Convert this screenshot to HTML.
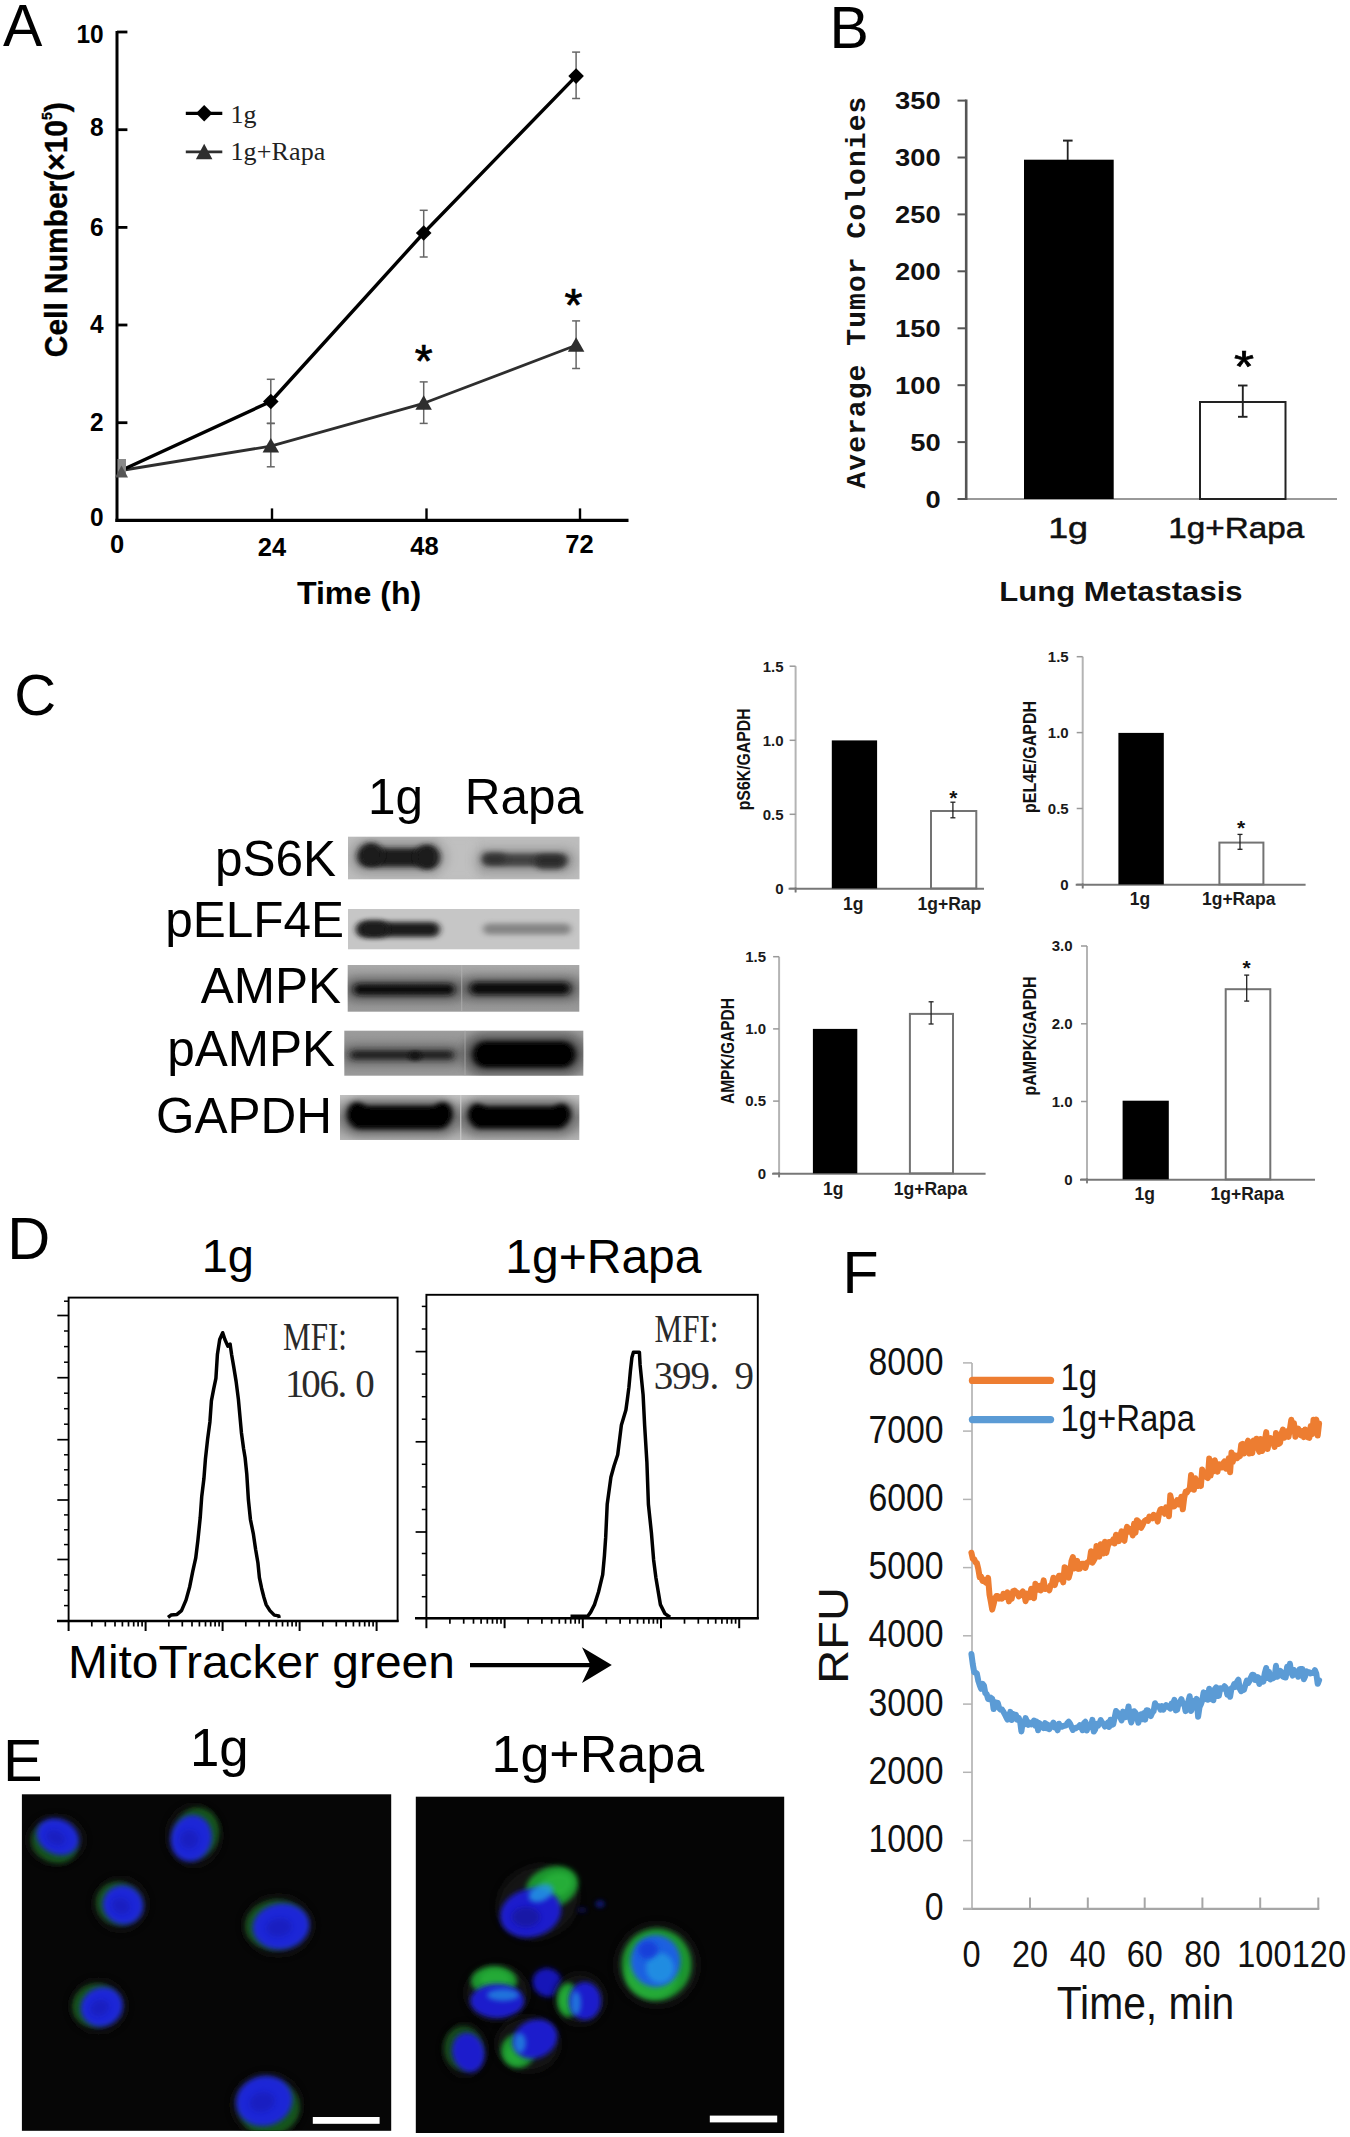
<!DOCTYPE html>
<html lang="en"><head><meta charset="utf-8"><title>Figure</title>
<style>
html,body{margin:0;padding:0;background:#fff;}
body{width:1350px;height:2137px;overflow:hidden;font-family:"Liberation Sans",Arial,sans-serif;}
svg{display:block;position:absolute;left:0;top:0;}
text{white-space:pre;}
</style></head><body>
<svg width="1350" height="2137" viewBox="0 0 1350 2137">
<defs>
<filter id="bl3" x="-30%" y="-60%" width="160%" height="220%"><feGaussianBlur stdDeviation="3.2 2.4"/></filter>
<filter id="bl2" x="-30%" y="-60%" width="160%" height="220%"><feGaussianBlur stdDeviation="2.4 1.8"/></filter>
<filter id="bl5" x="-30%" y="-80%" width="160%" height="260%"><feGaussianBlur stdDeviation="5 3.5"/></filter>
<filter id="bl1" x="-5%" y="-10%" width="110%" height="120%"><feGaussianBlur stdDeviation="0.7"/></filter>
<linearGradient id="gAMPK" x1="0" y1="0" x2="0" y2="1"><stop offset="0" stop-color="#a9a9a9"/><stop offset="0.5" stop-color="#8c8c8c"/><stop offset="1" stop-color="#9a9a9a"/></linearGradient>
<linearGradient id="gPAMPK" x1="0" y1="0" x2="0" y2="1"><stop offset="0" stop-color="#9c9c9c"/><stop offset="0.5" stop-color="#8a8a8a"/><stop offset="1" stop-color="#9a9a9a"/></linearGradient>
<linearGradient id="gGAPDH" x1="0" y1="0" x2="0" y2="1"><stop offset="0" stop-color="#c2c2c2"/><stop offset="0.5" stop-color="#8e8e8e"/><stop offset="1" stop-color="#b4b4b4"/></linearGradient>

<filter id="ef4" x="-40%" y="-40%" width="180%" height="180%"><feGaussianBlur stdDeviation="2.8"/></filter>
<filter id="ef6" x="-50%" y="-50%" width="200%" height="200%"><feGaussianBlur stdDeviation="3.5"/></filter>
<filter id="ef2" x="-40%" y="-40%" width="180%" height="180%"><feGaussianBlur stdDeviation="2"/></filter>
</defs>
<rect x="0" y="0" width="1350" height="2137" fill="#fff"/>
<g>
<text x="3.1" y="45.8" font-family='"Liberation Sans", Arial, Helvetica, sans-serif' font-size="59" font-weight="normal" text-anchor="start" fill="#000" >A</text>
<line x1="117" y1="31" x2="117" y2="522" stroke="#000" stroke-width="3.0" />
<line x1="115.4" y1="520.4" x2="628.5" y2="520.4" stroke="#000" stroke-width="3.2" />
<line x1="117" y1="422.7" x2="127.4" y2="422.7" stroke="#000" stroke-width="2.8" />
<line x1="117" y1="325" x2="127.4" y2="325" stroke="#000" stroke-width="2.8" />
<line x1="117" y1="227.4" x2="127.4" y2="227.4" stroke="#000" stroke-width="2.8" />
<line x1="117" y1="129.7" x2="127.4" y2="129.7" stroke="#000" stroke-width="2.8" />
<line x1="117" y1="32" x2="127.4" y2="32" stroke="#000" stroke-width="2.8" />
<text x="103.6" y="526.3" font-family='"Liberation Sans", Arial, Helvetica, sans-serif' font-size="26.5" font-weight="bold" text-anchor="end" fill="#000" textLength="13.6" lengthAdjust="spacingAndGlyphs">0</text>
<text x="103.6" y="430.8" font-family='"Liberation Sans", Arial, Helvetica, sans-serif' font-size="26.5" font-weight="bold" text-anchor="end" fill="#000" textLength="13.6" lengthAdjust="spacingAndGlyphs">2</text>
<text x="103.6" y="333.1" font-family='"Liberation Sans", Arial, Helvetica, sans-serif' font-size="26.5" font-weight="bold" text-anchor="end" fill="#000" textLength="13.6" lengthAdjust="spacingAndGlyphs">4</text>
<text x="103.6" y="235.5" font-family='"Liberation Sans", Arial, Helvetica, sans-serif' font-size="26.5" font-weight="bold" text-anchor="end" fill="#000" textLength="13.6" lengthAdjust="spacingAndGlyphs">6</text>
<text x="103.6" y="136.3" font-family='"Liberation Sans", Arial, Helvetica, sans-serif' font-size="26.5" font-weight="bold" text-anchor="end" fill="#000" textLength="13.6" lengthAdjust="spacingAndGlyphs">8</text>
<text x="103.6" y="43.2" font-family='"Liberation Sans", Arial, Helvetica, sans-serif' font-size="26.5" font-weight="bold" text-anchor="end" fill="#000" textLength="27.2" lengthAdjust="spacingAndGlyphs">10</text>
<line x1="272" y1="520.4" x2="272" y2="508.4" stroke="#000" stroke-width="2.4" />
<line x1="426.5" y1="520.4" x2="426.5" y2="508.4" stroke="#000" stroke-width="2.4" />
<line x1="580" y1="520.4" x2="580" y2="508.4" stroke="#000" stroke-width="2.4" />
<text x="117" y="553" font-family='"Liberation Sans", Arial, Helvetica, sans-serif' font-size="25.5" font-weight="bold" text-anchor="middle" fill="#000" >0</text>
<text x="272" y="556" font-family='"Liberation Sans", Arial, Helvetica, sans-serif' font-size="25.5" font-weight="bold" text-anchor="middle" fill="#000" >24</text>
<text x="424.5" y="554.5" font-family='"Liberation Sans", Arial, Helvetica, sans-serif' font-size="25.5" font-weight="bold" text-anchor="middle" fill="#000" >48</text>
<text x="579.5" y="553" font-family='"Liberation Sans", Arial, Helvetica, sans-serif' font-size="25.5" font-weight="bold" text-anchor="middle" fill="#000" >72</text>
<text x="359.1" y="603.8" font-family='"Liberation Sans", Arial, Helvetica, sans-serif' font-size="30.6" font-weight="bold" text-anchor="middle" fill="#000" textLength="124.4" lengthAdjust="spacingAndGlyphs">Time (h)</text>
<text x="67.3" y="229.7" font-family='"Liberation Sans", Arial, Helvetica, sans-serif' font-size="32" font-weight="bold" text-anchor="middle" fill="#000" transform="rotate(-90 67.3 229.7)" textLength="255" lengthAdjust="spacingAndGlyphs" stroke="#000" stroke-width="0.4">Cell Number(×10<tspan font-size="15" dy="-15.5">5</tspan><tspan dy="15.5">)</tspan></text>
<line x1="270.8" y1="379.3" x2="270.8" y2="423.4" stroke="#666" stroke-width="1.5" /><line x1="266.8" y1="379.3" x2="274.8" y2="379.3" stroke="#666" stroke-width="1.5" /><line x1="266.8" y1="423.4" x2="274.8" y2="423.4" stroke="#666" stroke-width="1.5" />
<line x1="270.8" y1="423.4" x2="270.8" y2="466.8" stroke="#666" stroke-width="1.5" /><line x1="266.8" y1="423.4" x2="274.8" y2="423.4" stroke="#666" stroke-width="1.5" /><line x1="266.8" y1="466.8" x2="274.8" y2="466.8" stroke="#666" stroke-width="1.5" />
<line x1="423.7" y1="210.3" x2="423.7" y2="257" stroke="#666" stroke-width="1.5" /><line x1="419.7" y1="210.3" x2="427.7" y2="210.3" stroke="#666" stroke-width="1.5" /><line x1="419.7" y1="257" x2="427.7" y2="257" stroke="#666" stroke-width="1.5" />
<line x1="576.1" y1="52.1" x2="576.1" y2="98.5" stroke="#666" stroke-width="1.5" /><line x1="572.1" y1="52.1" x2="580.1" y2="52.1" stroke="#666" stroke-width="1.5" /><line x1="572.1" y1="98.5" x2="580.1" y2="98.5" stroke="#666" stroke-width="1.5" />
<line x1="423.7" y1="381.9" x2="423.7" y2="423.4" stroke="#666" stroke-width="1.5" /><line x1="419.7" y1="381.9" x2="427.7" y2="381.9" stroke="#666" stroke-width="1.5" /><line x1="419.7" y1="423.4" x2="427.7" y2="423.4" stroke="#666" stroke-width="1.5" />
<line x1="576.1" y1="320.9" x2="576.1" y2="368.5" stroke="#666" stroke-width="1.5" /><line x1="572.1" y1="320.9" x2="580.1" y2="320.9" stroke="#666" stroke-width="1.5" /><line x1="572.1" y1="368.5" x2="580.1" y2="368.5" stroke="#666" stroke-width="1.5" />
<polyline points="121,470.5 270.8,446.1 423.7,403.3 576.1,345.3" fill="none" stroke="#2e2e2e" stroke-width="2.8" stroke-linejoin="round"/>
<polyline points="121,470.5 270.8,401.5 423.7,233 576.1,76.1" fill="none" stroke="#000" stroke-width="3.4" stroke-linejoin="round"/>
<polygon points="263,401.5 270.8,393.7 278.6,401.5 270.8,409.3" fill="#000"/>
<polygon points="415.9,233 423.7,225.2 431.5,233 423.7,240.8" fill="#000"/>
<polygon points="568.3,76.1 576.1,68.3 583.9,76.1 576.1,83.9" fill="#000"/>
<polygon points="262.6,452.6 279.1,452.6 270.8,438.1" fill="#2e2e2e"/>
<polygon points="415.4,409.8 431.9,409.8 423.7,395.3" fill="#2e2e2e"/>
<polygon points="567.9,351.8 584.4,351.8 576.1,337.3" fill="#2e2e2e"/>
<rect x="117.5" y="459" width="8.5" height="17" fill="#8a8a8a" />
<polygon points="115,477.4 128,477.4 121.5,465.4" fill="#555"/>
<line x1="185.8" y1="113.4" x2="222.3" y2="113.4" stroke="#000" stroke-width="3.2" />
<polygon points="196,113.2 204.2,105 212.4,113.2 204.2,121.4" fill="#000"/>
<line x1="185.8" y1="151.9" x2="222.3" y2="151.9" stroke="#2e2e2e" stroke-width="2.8" />
<polygon points="195.9,159.3 212.4,159.3 204.2,143.8" fill="#2e2e2e"/>
<text x="230.4" y="123.3" font-family='"Liberation Serif", "Noto Serif CJK SC", serif' font-size="26" font-weight="normal" text-anchor="start" fill="#222" >1g</text>
<text x="230.4" y="160.3" font-family='"Liberation Serif", "Noto Serif CJK SC", serif' font-size="26" font-weight="normal" text-anchor="start" fill="#222" textLength="95" lengthAdjust="spacing">1g+Rapa</text>
<text x="423.7" y="377" font-family='"Liberation Sans", Arial, Helvetica, sans-serif' font-size="46" font-weight="normal" text-anchor="middle" fill="#000" stroke="#000" stroke-width="0.7">*</text>
<text x="573.5" y="321" font-family='"Liberation Sans", Arial, Helvetica, sans-serif' font-size="46" font-weight="normal" text-anchor="middle" fill="#000" stroke="#000" stroke-width="0.7">*</text>
</g>
<g>
<text x="829.4" y="47.6" font-family='"Liberation Sans", Arial, Helvetica, sans-serif' font-size="59" font-weight="normal" text-anchor="start" fill="#000" >B</text>
<line x1="958" y1="499" x2="1337" y2="499" stroke="#777" stroke-width="1.6" />
<line x1="966.2" y1="99.6" x2="966.2" y2="500" stroke="#555" stroke-width="2.6" />
<line x1="957.5" y1="499" x2="966.2" y2="499" stroke="#555" stroke-width="2" />
<text x="940.6" y="507.7" font-family='"Liberation Sans", Arial, Helvetica, sans-serif' font-size="24.4" font-weight="bold" text-anchor="end" fill="#111" textLength="15.2" lengthAdjust="spacingAndGlyphs">0</text>
<line x1="957.5" y1="442.1" x2="966.2" y2="442.1" stroke="#555" stroke-width="2" />
<text x="940.6" y="450.8" font-family='"Liberation Sans", Arial, Helvetica, sans-serif' font-size="24.4" font-weight="bold" text-anchor="end" fill="#111" textLength="30.4" lengthAdjust="spacingAndGlyphs">50</text>
<line x1="957.5" y1="385.2" x2="966.2" y2="385.2" stroke="#555" stroke-width="2" />
<text x="940.6" y="393.9" font-family='"Liberation Sans", Arial, Helvetica, sans-serif' font-size="24.4" font-weight="bold" text-anchor="end" fill="#111" textLength="45.6" lengthAdjust="spacingAndGlyphs">100</text>
<line x1="957.5" y1="328.3" x2="966.2" y2="328.3" stroke="#555" stroke-width="2" />
<text x="940.6" y="337" font-family='"Liberation Sans", Arial, Helvetica, sans-serif' font-size="24.4" font-weight="bold" text-anchor="end" fill="#111" textLength="45.6" lengthAdjust="spacingAndGlyphs">150</text>
<line x1="957.5" y1="271.3" x2="966.2" y2="271.3" stroke="#555" stroke-width="2" />
<text x="940.6" y="280" font-family='"Liberation Sans", Arial, Helvetica, sans-serif' font-size="24.4" font-weight="bold" text-anchor="end" fill="#111" textLength="45.6" lengthAdjust="spacingAndGlyphs">200</text>
<line x1="957.5" y1="214.4" x2="966.2" y2="214.4" stroke="#555" stroke-width="2" />
<text x="940.6" y="223.1" font-family='"Liberation Sans", Arial, Helvetica, sans-serif' font-size="24.4" font-weight="bold" text-anchor="end" fill="#111" textLength="45.6" lengthAdjust="spacingAndGlyphs">250</text>
<line x1="957.5" y1="157.5" x2="966.2" y2="157.5" stroke="#555" stroke-width="2" />
<text x="940.6" y="166.2" font-family='"Liberation Sans", Arial, Helvetica, sans-serif' font-size="24.4" font-weight="bold" text-anchor="end" fill="#111" textLength="45.6" lengthAdjust="spacingAndGlyphs">300</text>
<line x1="957.5" y1="100.6" x2="966.2" y2="100.6" stroke="#555" stroke-width="2" />
<text x="940.6" y="109.3" font-family='"Liberation Sans", Arial, Helvetica, sans-serif' font-size="24.4" font-weight="bold" text-anchor="end" fill="#111" textLength="45.6" lengthAdjust="spacingAndGlyphs">350</text>
<rect x="1024" y="159.7" width="89.7" height="339.3" fill="#000" />
<rect x="1200" y="402" width="85.5" height="97" fill="#fff" stroke="#222" stroke-width="2" />
<line x1="1067.7" y1="140.6" x2="1067.7" y2="160" stroke="#222" stroke-width="1.8" />
<line x1="1063" y1="140.6" x2="1072.6" y2="140.6" stroke="#222" stroke-width="2.0" />
<line x1="1242.8" y1="385.5" x2="1242.8" y2="416.8" stroke="#222" stroke-width="1.9" /><line x1="1238" y1="385.5" x2="1247.5" y2="385.5" stroke="#222" stroke-width="1.9" /><line x1="1238" y1="416.8" x2="1247.5" y2="416.8" stroke="#222" stroke-width="1.9" />
<text x="1244" y="381.8" font-family='"Liberation Sans", Arial, Helvetica, sans-serif' font-size="45" font-weight="normal" text-anchor="middle" fill="#000" stroke="#000" stroke-width="0.7" textLength="20" lengthAdjust="spacingAndGlyphs">*</text>
<text x="1068.1" y="537.9" font-family='"Liberation Sans", Arial, Helvetica, sans-serif' font-size="30.4" font-weight="normal" text-anchor="middle" fill="#111" stroke="#111" stroke-width="0.5" textLength="39.9" lengthAdjust="spacingAndGlyphs">1g</text>
<text x="1236.3" y="538.3" font-family='"Liberation Sans", Arial, Helvetica, sans-serif' font-size="30.4" font-weight="normal" text-anchor="middle" fill="#111" stroke="#111" stroke-width="0.5" textLength="135.9" lengthAdjust="spacingAndGlyphs">1g+Rapa</text>
<text x="1120.9" y="601" font-family='"Liberation Sans", Arial, Helvetica, sans-serif' font-size="27" font-weight="bold" text-anchor="middle" fill="#111" textLength="243.3" lengthAdjust="spacingAndGlyphs">Lung Metastasis</text>
<text x="864.8" y="292.6" font-family='"Liberation Mono", monospace' font-size="28" font-weight="bold" text-anchor="middle" fill="#111" transform="rotate(-90 864.8 292.6)" textLength="392" lengthAdjust="spacing">Average Tumor Colonies</text>
</g>
<g>
<text x="14.2" y="715.4" font-family='"Liberation Sans", Arial, Helvetica, sans-serif' font-size="58" font-weight="normal" text-anchor="start" fill="#000" >C</text>
<text x="395.5" y="814" font-family='"Liberation Sans", Arial, Helvetica, sans-serif' font-size="49.5" font-weight="normal" text-anchor="middle" fill="#000" >1g</text>
<text x="524" y="814" font-family='"Liberation Sans", Arial, Helvetica, sans-serif' font-size="49.5" font-weight="normal" text-anchor="middle" fill="#000" >Rapa</text>
<text x="336" y="876" font-family='"Liberation Sans", Arial, Helvetica, sans-serif' font-size="49.5" font-weight="normal" text-anchor="end" fill="#000" >pS6K</text>
<text x="344" y="937" font-family='"Liberation Sans", Arial, Helvetica, sans-serif' font-size="49.5" font-weight="normal" text-anchor="end" fill="#000" >pELF4E</text>
<text x="341" y="1003" font-family='"Liberation Sans", Arial, Helvetica, sans-serif' font-size="49.5" font-weight="normal" text-anchor="end" fill="#000" >AMPK</text>
<text x="335" y="1066" font-family='"Liberation Sans", Arial, Helvetica, sans-serif' font-size="49.5" font-weight="normal" text-anchor="end" fill="#000" >pAMPK</text>
<text x="332" y="1133" font-family='"Liberation Sans", Arial, Helvetica, sans-serif' font-size="49.5" font-weight="normal" text-anchor="end" fill="#000" >GAPDH</text>
<clipPath id="cb1"><rect x="348" y="836.7" width="231.5" height="42.6"/></clipPath><g filter="url(#bl1)"><rect x="348" y="836.7" width="231.5" height="42.6" fill="#bcbcbc" /><g clip-path="url(#cb1)"><rect x="349" y="839" width="100" height="36" rx="18" ry="18" fill="#666" opacity="0.35" filter="url(#bl5)"/><rect x="473" y="847" width="104" height="28" rx="14" ry="14" fill="#666" opacity="0.3" filter="url(#bl5)"/><rect x="358" y="848" width="82" height="19" rx="9.5" ry="9.5" fill="#1c1c1c" opacity="1.0" filter="url(#bl3)"/><rect x="359" y="842.5" width="24" height="24" rx="12" ry="12" fill="#1c1c1c" opacity="1.0" filter="url(#bl3)"/><rect x="415" y="844.5" width="24" height="25" rx="12" ry="12.5" fill="#1c1c1c" opacity="1.0" filter="url(#bl3)"/><rect x="482" y="853.5" width="86" height="13" rx="6.5" ry="6.5" fill="#333" opacity="0.85" filter="url(#bl3)"/><rect x="535" y="854.5" width="30" height="15" rx="7.5" ry="7.5" fill="#222" opacity="0.7" filter="url(#bl3)"/><rect x="482" y="852" width="24" height="12" rx="6" ry="6" fill="#222" opacity="0.5" filter="url(#bl3)"/><rect x="440" y="836" width="36" height="44" fill="#c8c8c8" opacity="0.35" filter="url(#bl5)"/></g></g>
<clipPath id="cb2"><rect x="348" y="909" width="231.5" height="40.3"/></clipPath><g filter="url(#bl1)"><rect x="348" y="909" width="231.5" height="40.3" fill="#c6c6c6" /><g clip-path="url(#cb2)"><rect x="356" y="922" width="84" height="15" rx="7.5" ry="7.5" fill="#1e1e1e" opacity="1.0" filter="url(#bl3)"/><rect x="360" y="920.5" width="28" height="17" rx="8.5" ry="8.5" fill="#1e1e1e" opacity="0.9" filter="url(#bl3)"/><rect x="483" y="923.5" width="88" height="11" rx="5.5" ry="5.5" fill="#5a5a5a" opacity="0.6" filter="url(#bl3)"/></g></g>
<clipPath id="cb3"><rect x="347.7" y="965" width="231.6" height="46.7"/></clipPath><g filter="url(#bl1)"><rect x="347.7" y="965" width="231.6" height="46.7" fill="url(#gAMPK)" /><g clip-path="url(#cb3)"><rect x="344" y="976.5" width="120" height="26" rx="13" ry="13" fill="#555" opacity="0.55" filter="url(#bl5)"/><rect x="460" y="975.5" width="120" height="26" rx="13" ry="13" fill="#555" opacity="0.55" filter="url(#bl5)"/><rect x="353" y="983.5" width="102" height="12" rx="6" ry="6" fill="#111" opacity="1.0" filter="url(#bl3)"/><rect x="469" y="982" width="102" height="13" rx="6.5" ry="6.5" fill="#0c0c0c" opacity="1.0" filter="url(#bl3)"/><line x1="461.7" y1="964" x2="461.7" y2="1012" stroke="#b5b5b5" stroke-width="1.2" opacity="0.6"/></g></g>
<clipPath id="cb4"><rect x="344.3" y="1030.7" width="239" height="45"/></clipPath><g filter="url(#bl1)"><rect x="344.3" y="1030.7" width="239" height="45" fill="url(#gPAMPK)" /><g clip-path="url(#cb4)"><rect x="342" y="1044" width="120" height="22" rx="11" ry="11" fill="#555" opacity="0.5" filter="url(#bl5)"/><rect x="462" y="1032.5" width="124" height="44" rx="22" ry="22" fill="#444" opacity="0.6" filter="url(#bl5)"/><rect x="350" y="1050.5" width="104" height="9" rx="4.5" ry="4.5" fill="#1a1a1a" opacity="0.95" filter="url(#bl3)"/><rect x="409" y="1051" width="12" height="10" rx="5" ry="5" fill="#111" opacity="0.7" filter="url(#bl2)"/><rect x="472" y="1041" width="104" height="27" rx="13.5" ry="13.5" fill="#000" opacity="1.0" filter="url(#bl3)"/><line x1="465" y1="1030" x2="465" y2="1076" stroke="#b0b0b0" stroke-width="1.2" opacity="0.6"/></g></g>
<clipPath id="cb5"><rect x="340" y="1095" width="239.3" height="45"/></clipPath><g filter="url(#bl1)"><rect x="340" y="1095" width="239.3" height="45" fill="url(#gGAPDH)" /><g clip-path="url(#cb5)"><rect x="340" y="1097.5" width="120" height="40" rx="20" ry="20" fill="#555" opacity="0.5" filter="url(#bl5)"/><rect x="459" y="1097.5" width="120" height="40" rx="20" ry="20" fill="#555" opacity="0.5" filter="url(#bl5)"/><rect x="348" y="1105.5" width="103" height="24" rx="12" ry="12" fill="#000" opacity="1.0" filter="url(#bl3)"/><rect x="348" y="1102" width="18" height="20" rx="9" ry="10" fill="#000" opacity="1.0" filter="url(#bl3)"/><rect x="434" y="1102" width="18" height="20" rx="9" ry="10" fill="#000" opacity="1.0" filter="url(#bl3)"/><rect x="469" y="1106" width="100" height="23" rx="11.5" ry="11.5" fill="#000" opacity="1.0" filter="url(#bl3)"/><rect x="469" y="1103.5" width="16" height="18" rx="8" ry="9" fill="#000" opacity="1.0" filter="url(#bl3)"/><rect x="554" y="1103.5" width="16" height="18" rx="8" ry="9" fill="#000" opacity="1.0" filter="url(#bl3)"/><line x1="460.7" y1="1094" x2="460.7" y2="1141" stroke="#cfcfcf" stroke-width="1.4" opacity="0.7"/></g></g>
<line x1="795.6" y1="666.2" x2="795.6" y2="892.4" stroke="#b4b4b4" stroke-width="2.0" />
<line x1="789.6" y1="888.4" x2="795.6" y2="888.4" stroke="#999" stroke-width="1.5" />
<text x="783.6" y="893.7" font-family='"Liberation Sans", Arial, Helvetica, sans-serif' font-size="15" font-weight="bold" text-anchor="end" fill="#1a1a1a" >0</text>
<line x1="789.6" y1="814.3" x2="795.6" y2="814.3" stroke="#999" stroke-width="1.5" />
<text x="783.6" y="819.6" font-family='"Liberation Sans", Arial, Helvetica, sans-serif' font-size="15" font-weight="bold" text-anchor="end" fill="#1a1a1a" >0.5</text>
<line x1="789.6" y1="740.3" x2="795.6" y2="740.3" stroke="#999" stroke-width="1.5" />
<text x="783.6" y="745.6" font-family='"Liberation Sans", Arial, Helvetica, sans-serif' font-size="15" font-weight="bold" text-anchor="end" fill="#1a1a1a" >1.0</text>
<line x1="789.6" y1="666.2" x2="795.6" y2="666.2" stroke="#999" stroke-width="1.5" />
<text x="783.6" y="671.5" font-family='"Liberation Sans", Arial, Helvetica, sans-serif' font-size="15" font-weight="bold" text-anchor="end" fill="#1a1a1a" >1.5</text>
<line x1="788.6" y1="888.8" x2="984" y2="888.8" stroke="#777" stroke-width="2.0" />
<line x1="795.6" y1="887.4" x2="795.6" y2="892.4" stroke="#777" stroke-width="1.6" />
<rect x="831.8" y="740.4" width="45.3" height="148" fill="#000" />
<rect x="931" y="811" width="45.3" height="77.4" fill="#fff" stroke="#737373" stroke-width="2.0" />
<line x1="952.9" y1="802.2" x2="952.9" y2="817.8" stroke="#222" stroke-width="1.3" /><line x1="950.4" y1="802.2" x2="955.4" y2="802.2" stroke="#222" stroke-width="1.3" /><line x1="950.4" y1="817.8" x2="955.4" y2="817.8" stroke="#222" stroke-width="1.3" />
<text x="953.3" y="805" font-family='"Liberation Sans", Arial, Helvetica, sans-serif' font-size="21" font-weight="bold" text-anchor="middle" fill="#111" >*</text>
<text x="749.8" y="759.3" font-family='"Liberation Sans", Arial, Helvetica, sans-serif' font-size="18.5" font-weight="bold" text-anchor="middle" fill="#111" transform="rotate(-90 749.8 759.3)" textLength="102" lengthAdjust="spacingAndGlyphs">pS6K/GAPDH</text>
<text x="853.3" y="909.5" font-family='"Liberation Sans", Arial, Helvetica, sans-serif' font-size="17.5" font-weight="bold" text-anchor="middle" fill="#1a1a1a" >1g</text>
<text x="949.4" y="909.5" font-family='"Liberation Sans", Arial, Helvetica, sans-serif' font-size="17.5" font-weight="bold" text-anchor="middle" fill="#1a1a1a" >1g+Rap</text>
<line x1="1082.7" y1="656.7" x2="1082.7" y2="888.4" stroke="#b4b4b4" stroke-width="2.0" />
<line x1="1076.7" y1="884.4" x2="1082.7" y2="884.4" stroke="#999" stroke-width="1.5" />
<text x="1068.7" y="889.7" font-family='"Liberation Sans", Arial, Helvetica, sans-serif' font-size="15" font-weight="bold" text-anchor="end" fill="#1a1a1a" >0</text>
<line x1="1076.7" y1="808.5" x2="1082.7" y2="808.5" stroke="#999" stroke-width="1.5" />
<text x="1068.7" y="813.8" font-family='"Liberation Sans", Arial, Helvetica, sans-serif' font-size="15" font-weight="bold" text-anchor="end" fill="#1a1a1a" >0.5</text>
<line x1="1076.7" y1="732.6" x2="1082.7" y2="732.6" stroke="#999" stroke-width="1.5" />
<text x="1068.7" y="737.9" font-family='"Liberation Sans", Arial, Helvetica, sans-serif' font-size="15" font-weight="bold" text-anchor="end" fill="#1a1a1a" >1.0</text>
<line x1="1076.7" y1="656.7" x2="1082.7" y2="656.7" stroke="#999" stroke-width="1.5" />
<text x="1068.7" y="662" font-family='"Liberation Sans", Arial, Helvetica, sans-serif' font-size="15" font-weight="bold" text-anchor="end" fill="#1a1a1a" >1.5</text>
<line x1="1075.7" y1="884.8" x2="1305.6" y2="884.8" stroke="#777" stroke-width="2.0" />
<line x1="1082.7" y1="883.4" x2="1082.7" y2="888.4" stroke="#777" stroke-width="1.6" />
<rect x="1118.4" y="732.9" width="45.4" height="151.5" fill="#000" />
<rect x="1219.4" y="842.6" width="44" height="41.8" fill="#fff" stroke="#737373" stroke-width="2.0" />
<line x1="1240" y1="834.4" x2="1240" y2="849.3" stroke="#222" stroke-width="1.3" /><line x1="1237.5" y1="834.4" x2="1242.5" y2="834.4" stroke="#222" stroke-width="1.3" /><line x1="1237.5" y1="849.3" x2="1242.5" y2="849.3" stroke="#222" stroke-width="1.3" />
<text x="1241" y="835" font-family='"Liberation Sans", Arial, Helvetica, sans-serif' font-size="21" font-weight="bold" text-anchor="middle" fill="#111" >*</text>
<text x="1036" y="757" font-family='"Liberation Sans", Arial, Helvetica, sans-serif' font-size="18.5" font-weight="bold" text-anchor="middle" fill="#111" transform="rotate(-90 1036 757)" textLength="112" lengthAdjust="spacingAndGlyphs">pEL4E/GAPDH</text>
<text x="1140" y="905" font-family='"Liberation Sans", Arial, Helvetica, sans-serif' font-size="17.5" font-weight="bold" text-anchor="middle" fill="#1a1a1a" >1g</text>
<text x="1238.7" y="905" font-family='"Liberation Sans", Arial, Helvetica, sans-serif' font-size="17.5" font-weight="bold" text-anchor="middle" fill="#1a1a1a" >1g+Rapa</text>
<line x1="779.1" y1="956.7" x2="779.1" y2="1177.3" stroke="#b4b4b4" stroke-width="2.0" />
<line x1="773.1" y1="1173.3" x2="779.1" y2="1173.3" stroke="#999" stroke-width="1.5" />
<text x="766.1" y="1178.6" font-family='"Liberation Sans", Arial, Helvetica, sans-serif' font-size="15" font-weight="bold" text-anchor="end" fill="#1a1a1a" >0</text>
<line x1="773.1" y1="1101.1" x2="779.1" y2="1101.1" stroke="#999" stroke-width="1.5" />
<text x="766.1" y="1106.4" font-family='"Liberation Sans", Arial, Helvetica, sans-serif' font-size="15" font-weight="bold" text-anchor="end" fill="#1a1a1a" >0.5</text>
<line x1="773.1" y1="1028.9" x2="779.1" y2="1028.9" stroke="#999" stroke-width="1.5" />
<text x="766.1" y="1034.2" font-family='"Liberation Sans", Arial, Helvetica, sans-serif' font-size="15" font-weight="bold" text-anchor="end" fill="#1a1a1a" >1.0</text>
<line x1="773.1" y1="956.7" x2="779.1" y2="956.7" stroke="#999" stroke-width="1.5" />
<text x="766.1" y="962" font-family='"Liberation Sans", Arial, Helvetica, sans-serif' font-size="15" font-weight="bold" text-anchor="end" fill="#1a1a1a" >1.5</text>
<line x1="772.1" y1="1173.7" x2="985.6" y2="1173.7" stroke="#777" stroke-width="2.0" />
<line x1="779.1" y1="1172.3" x2="779.1" y2="1177.3" stroke="#777" stroke-width="1.6" />
<rect x="812.9" y="1028.9" width="44.4" height="144.4" fill="#000" />
<rect x="909.9" y="1013.9" width="43.1" height="159.4" fill="#fff" stroke="#737373" stroke-width="2.0" />
<line x1="931.1" y1="1001.8" x2="931.1" y2="1024" stroke="#222" stroke-width="1.3" /><line x1="928.6" y1="1001.8" x2="933.6" y2="1001.8" stroke="#222" stroke-width="1.3" /><line x1="928.6" y1="1024" x2="933.6" y2="1024" stroke="#222" stroke-width="1.3" />
<text x="734.2" y="1051" font-family='"Liberation Sans", Arial, Helvetica, sans-serif' font-size="18.5" font-weight="bold" text-anchor="middle" fill="#111" transform="rotate(-90 734.2 1051)" textLength="106" lengthAdjust="spacingAndGlyphs">AMPK/GAPDH</text>
<text x="833.3" y="1194.5" font-family='"Liberation Sans", Arial, Helvetica, sans-serif' font-size="17.5" font-weight="bold" text-anchor="middle" fill="#1a1a1a" >1g</text>
<text x="930.5" y="1194.5" font-family='"Liberation Sans", Arial, Helvetica, sans-serif' font-size="17.5" font-weight="bold" text-anchor="middle" fill="#1a1a1a" >1g+Rapa</text>
<line x1="1087" y1="946" x2="1087" y2="1183.3" stroke="#b4b4b4" stroke-width="2.0" />
<line x1="1081" y1="1179.3" x2="1087" y2="1179.3" stroke="#999" stroke-width="1.5" />
<text x="1072.5" y="1184.6" font-family='"Liberation Sans", Arial, Helvetica, sans-serif' font-size="15" font-weight="bold" text-anchor="end" fill="#1a1a1a" >0</text>
<line x1="1081" y1="1101.5" x2="1087" y2="1101.5" stroke="#999" stroke-width="1.5" />
<text x="1072.5" y="1106.8" font-family='"Liberation Sans", Arial, Helvetica, sans-serif' font-size="15" font-weight="bold" text-anchor="end" fill="#1a1a1a" >1.0</text>
<line x1="1081" y1="1023.8" x2="1087" y2="1023.8" stroke="#999" stroke-width="1.5" />
<text x="1072.5" y="1029.1" font-family='"Liberation Sans", Arial, Helvetica, sans-serif' font-size="15" font-weight="bold" text-anchor="end" fill="#1a1a1a" >2.0</text>
<line x1="1081" y1="946" x2="1087" y2="946" stroke="#999" stroke-width="1.5" />
<text x="1072.5" y="951.3" font-family='"Liberation Sans", Arial, Helvetica, sans-serif' font-size="15" font-weight="bold" text-anchor="end" fill="#1a1a1a" >3.0</text>
<line x1="1080" y1="1179.7" x2="1315" y2="1179.7" stroke="#777" stroke-width="2.0" />
<line x1="1087" y1="1178.3" x2="1087" y2="1183.3" stroke="#777" stroke-width="1.6" />
<rect x="1122.6" y="1100.7" width="46.2" height="78.6" fill="#000" />
<rect x="1225.7" y="989.2" width="44.6" height="190.1" fill="#fff" stroke="#737373" stroke-width="2.0" />
<line x1="1246.7" y1="975.1" x2="1246.7" y2="1001.1" stroke="#222" stroke-width="1.3" /><line x1="1244.2" y1="975.1" x2="1249.2" y2="975.1" stroke="#222" stroke-width="1.3" /><line x1="1244.2" y1="1001.1" x2="1249.2" y2="1001.1" stroke="#222" stroke-width="1.3" />
<text x="1246.7" y="975" font-family='"Liberation Sans", Arial, Helvetica, sans-serif' font-size="21" font-weight="bold" text-anchor="middle" fill="#111" >*</text>
<text x="1036" y="1036" font-family='"Liberation Sans", Arial, Helvetica, sans-serif' font-size="18.5" font-weight="bold" text-anchor="middle" fill="#111" transform="rotate(-90 1036 1036)" textLength="119" lengthAdjust="spacingAndGlyphs">pAMPK/GAPDH</text>
<text x="1144.7" y="1199.7" font-family='"Liberation Sans", Arial, Helvetica, sans-serif' font-size="17.5" font-weight="bold" text-anchor="middle" fill="#1a1a1a" >1g</text>
<text x="1247.3" y="1199.7" font-family='"Liberation Sans", Arial, Helvetica, sans-serif' font-size="17.5" font-weight="bold" text-anchor="middle" fill="#1a1a1a" >1g+Rapa</text>
</g>
<g>
<text x="7.2" y="1258.7" font-family='"Liberation Sans", Arial, Helvetica, sans-serif' font-size="59.5" font-weight="normal" text-anchor="start" fill="#000" >D</text>
<text x="227.8" y="1272" font-family='"Liberation Sans", Arial, Helvetica, sans-serif' font-size="47" font-weight="normal" text-anchor="middle" fill="#000" >1g</text>
<text x="603.4" y="1273.3" font-family='"Liberation Sans", Arial, Helvetica, sans-serif' font-size="48" font-weight="normal" text-anchor="middle" fill="#000" >1g+Rapa</text>
<rect x="68.6" y="1297.6" width="329" height="323.4" fill="none" stroke="#000" stroke-width="1.9" />
<line x1="57" y1="1621" x2="398.6" y2="1621" stroke="#000" stroke-width="2.6" />
<line x1="57.3" y1="1315.5" x2="68.6" y2="1315.5" stroke="#000" stroke-width="1.7" />
<line x1="57.3" y1="1377.7" x2="68.6" y2="1377.7" stroke="#000" stroke-width="1.7" />
<line x1="57.3" y1="1439.7" x2="68.6" y2="1439.7" stroke="#000" stroke-width="1.7" />
<line x1="57.3" y1="1500" x2="68.6" y2="1500" stroke="#000" stroke-width="1.7" />
<line x1="57.3" y1="1559.5" x2="68.6" y2="1559.5" stroke="#000" stroke-width="1.7" />
<line x1="57.3" y1="1621" x2="68.6" y2="1621" stroke="#000" stroke-width="1.7" />
<line x1="64" y1="1331" x2="68.6" y2="1331" stroke="#000" stroke-width="1.5" />
<line x1="64" y1="1346.6" x2="68.6" y2="1346.6" stroke="#000" stroke-width="1.5" />
<line x1="64" y1="1362.2" x2="68.6" y2="1362.2" stroke="#000" stroke-width="1.5" />
<line x1="64" y1="1393.2" x2="68.6" y2="1393.2" stroke="#000" stroke-width="1.5" />
<line x1="64" y1="1408.7" x2="68.6" y2="1408.7" stroke="#000" stroke-width="1.5" />
<line x1="64" y1="1424.2" x2="68.6" y2="1424.2" stroke="#000" stroke-width="1.5" />
<line x1="64" y1="1454.8" x2="68.6" y2="1454.8" stroke="#000" stroke-width="1.5" />
<line x1="64" y1="1469.8" x2="68.6" y2="1469.8" stroke="#000" stroke-width="1.5" />
<line x1="64" y1="1484.9" x2="68.6" y2="1484.9" stroke="#000" stroke-width="1.5" />
<line x1="64" y1="1514.9" x2="68.6" y2="1514.9" stroke="#000" stroke-width="1.5" />
<line x1="64" y1="1529.8" x2="68.6" y2="1529.8" stroke="#000" stroke-width="1.5" />
<line x1="64" y1="1544.6" x2="68.6" y2="1544.6" stroke="#000" stroke-width="1.5" />
<line x1="64" y1="1574.9" x2="68.6" y2="1574.9" stroke="#000" stroke-width="1.5" />
<line x1="64" y1="1590.2" x2="68.6" y2="1590.2" stroke="#000" stroke-width="1.5" />
<line x1="64" y1="1605.6" x2="68.6" y2="1605.6" stroke="#000" stroke-width="1.5" />
<line x1="64" y1="1301.2" x2="68.6" y2="1301.2" stroke="#000" stroke-width="1.5" />
<line x1="68.6" y1="1621" x2="68.6" y2="1631" stroke="#000" stroke-width="2.0" /><line x1="91.8" y1="1621" x2="91.8" y2="1626.5" stroke="#000" stroke-width="1.7" /><line x1="105.3" y1="1621" x2="105.3" y2="1626.5" stroke="#000" stroke-width="1.7" /><line x1="115" y1="1621" x2="115" y2="1626.5" stroke="#000" stroke-width="1.7" /><line x1="122.4" y1="1621" x2="122.4" y2="1626.5" stroke="#000" stroke-width="1.7" /><line x1="128.5" y1="1621" x2="128.5" y2="1626.5" stroke="#000" stroke-width="1.7" /><line x1="133.7" y1="1621" x2="133.7" y2="1626.5" stroke="#000" stroke-width="1.7" /><line x1="138.1" y1="1621" x2="138.1" y2="1626.5" stroke="#000" stroke-width="1.7" /><line x1="142.1" y1="1621" x2="142.1" y2="1626.5" stroke="#000" stroke-width="1.7" /><line x1="145.6" y1="1621" x2="145.6" y2="1631" stroke="#000" stroke-width="2.0" /><line x1="168.8" y1="1621" x2="168.8" y2="1626.5" stroke="#000" stroke-width="1.7" /><line x1="182.3" y1="1621" x2="182.3" y2="1626.5" stroke="#000" stroke-width="1.7" /><line x1="192" y1="1621" x2="192" y2="1626.5" stroke="#000" stroke-width="1.7" /><line x1="199.4" y1="1621" x2="199.4" y2="1626.5" stroke="#000" stroke-width="1.7" /><line x1="205.5" y1="1621" x2="205.5" y2="1626.5" stroke="#000" stroke-width="1.7" /><line x1="210.7" y1="1621" x2="210.7" y2="1626.5" stroke="#000" stroke-width="1.7" /><line x1="215.1" y1="1621" x2="215.1" y2="1626.5" stroke="#000" stroke-width="1.7" /><line x1="219.1" y1="1621" x2="219.1" y2="1626.5" stroke="#000" stroke-width="1.7" /><line x1="222.6" y1="1621" x2="222.6" y2="1631" stroke="#000" stroke-width="2.0" /><line x1="245.8" y1="1621" x2="245.8" y2="1626.5" stroke="#000" stroke-width="1.7" /><line x1="259.3" y1="1621" x2="259.3" y2="1626.5" stroke="#000" stroke-width="1.7" /><line x1="269" y1="1621" x2="269" y2="1626.5" stroke="#000" stroke-width="1.7" /><line x1="276.4" y1="1621" x2="276.4" y2="1626.5" stroke="#000" stroke-width="1.7" /><line x1="282.5" y1="1621" x2="282.5" y2="1626.5" stroke="#000" stroke-width="1.7" /><line x1="287.7" y1="1621" x2="287.7" y2="1626.5" stroke="#000" stroke-width="1.7" /><line x1="292.1" y1="1621" x2="292.1" y2="1626.5" stroke="#000" stroke-width="1.7" /><line x1="296.1" y1="1621" x2="296.1" y2="1626.5" stroke="#000" stroke-width="1.7" /><line x1="299.6" y1="1621" x2="299.6" y2="1631" stroke="#000" stroke-width="2.0" /><line x1="322.8" y1="1621" x2="322.8" y2="1626.5" stroke="#000" stroke-width="1.7" /><line x1="336.3" y1="1621" x2="336.3" y2="1626.5" stroke="#000" stroke-width="1.7" /><line x1="346" y1="1621" x2="346" y2="1626.5" stroke="#000" stroke-width="1.7" /><line x1="353.4" y1="1621" x2="353.4" y2="1626.5" stroke="#000" stroke-width="1.7" /><line x1="359.5" y1="1621" x2="359.5" y2="1626.5" stroke="#000" stroke-width="1.7" /><line x1="364.7" y1="1621" x2="364.7" y2="1626.5" stroke="#000" stroke-width="1.7" /><line x1="369.1" y1="1621" x2="369.1" y2="1626.5" stroke="#000" stroke-width="1.7" /><line x1="373.1" y1="1621" x2="373.1" y2="1626.5" stroke="#000" stroke-width="1.7" /><line x1="376.6" y1="1621" x2="376.6" y2="1631" stroke="#000" stroke-width="2.0" />
<polyline points="168,1617.4 171,1615.1 177,1614.4 181.5,1610.6 186,1600.1 189.7,1586.7 192.7,1571.7 195.7,1558.2 197.9,1540.2 200.2,1517.8 201.7,1496.8 203.9,1478.8 205.4,1459.3 207.7,1438.4 209.9,1421.9 211.4,1400.9 213.7,1388.9 215.9,1378.4 217.4,1354.5 219.7,1339.5 222.7,1332.7 224.9,1339.5 227.9,1346.2 230.1,1344 231.6,1354.5 233.9,1367.9 236.1,1381.4 238.4,1399.4 239.9,1415.9 241.4,1432.4 243.6,1448.8 245.1,1457.8 246.8,1474.3 248.4,1499.8 250.4,1519.3 253.4,1534.2 255.6,1549.2 257.9,1562.7 259.4,1577.7 261.6,1588.2 263.9,1597.2 266.1,1604.6 269.9,1610.6 274.3,1615.1 278.8,1615.9 279.1,1618.1" fill="none" stroke="#000" stroke-width="3.5" stroke-linejoin="round"/>
<text x="283" y="1350.4" font-family='"Liberation Serif", "Noto Serif CJK SC", serif' font-size="39" font-weight="normal" text-anchor="start" fill="#2a2a2a" textLength="64" lengthAdjust="spacingAndGlyphs">MFI:</text>
<text x="285 301.2 319.5 337.5 355.2" y="1396.7" font-family='"Liberation Serif", "Noto Serif CJK SC", serif' font-size="39" fill="#2a2a2a">106.0</text>
<rect x="426.4" y="1294.8" width="331.4" height="323.4" fill="none" stroke="#000" stroke-width="1.9" />
<line x1="415" y1="1618.2" x2="758.8" y2="1618.2" stroke="#000" stroke-width="2.6" />
<line x1="415.6" y1="1351.6" x2="426.4" y2="1351.6" stroke="#000" stroke-width="1.7" />
<line x1="415.6" y1="1441.8" x2="426.4" y2="1441.8" stroke="#000" stroke-width="1.7" />
<line x1="415.6" y1="1532" x2="426.4" y2="1532" stroke="#000" stroke-width="1.7" />
<line x1="415.6" y1="1618.2" x2="426.4" y2="1618.2" stroke="#000" stroke-width="1.7" />
<line x1="421.8" y1="1374.1" x2="426.4" y2="1374.1" stroke="#000" stroke-width="1.5" />
<line x1="421.8" y1="1396.7" x2="426.4" y2="1396.7" stroke="#000" stroke-width="1.5" />
<line x1="421.8" y1="1419.2" x2="426.4" y2="1419.2" stroke="#000" stroke-width="1.5" />
<line x1="421.8" y1="1464.3" x2="426.4" y2="1464.3" stroke="#000" stroke-width="1.5" />
<line x1="421.8" y1="1486.9" x2="426.4" y2="1486.9" stroke="#000" stroke-width="1.5" />
<line x1="421.8" y1="1509.5" x2="426.4" y2="1509.5" stroke="#000" stroke-width="1.5" />
<line x1="421.8" y1="1553.5" x2="426.4" y2="1553.5" stroke="#000" stroke-width="1.5" />
<line x1="421.8" y1="1575.1" x2="426.4" y2="1575.1" stroke="#000" stroke-width="1.5" />
<line x1="421.8" y1="1596.7" x2="426.4" y2="1596.7" stroke="#000" stroke-width="1.5" />
<line x1="421.8" y1="1329" x2="426.4" y2="1329" stroke="#000" stroke-width="1.5" />
<line x1="421.8" y1="1306.4" x2="426.4" y2="1306.4" stroke="#000" stroke-width="1.5" />
<line x1="426.4" y1="1618.2" x2="426.4" y2="1628.2" stroke="#000" stroke-width="2.0" /><line x1="449.9" y1="1618.2" x2="449.9" y2="1623.7" stroke="#000" stroke-width="1.7" /><line x1="463.7" y1="1618.2" x2="463.7" y2="1623.7" stroke="#000" stroke-width="1.7" /><line x1="473.5" y1="1618.2" x2="473.5" y2="1623.7" stroke="#000" stroke-width="1.7" /><line x1="481.1" y1="1618.2" x2="481.1" y2="1623.7" stroke="#000" stroke-width="1.7" /><line x1="487.3" y1="1618.2" x2="487.3" y2="1623.7" stroke="#000" stroke-width="1.7" /><line x1="492.5" y1="1618.2" x2="492.5" y2="1623.7" stroke="#000" stroke-width="1.7" /><line x1="497" y1="1618.2" x2="497" y2="1623.7" stroke="#000" stroke-width="1.7" /><line x1="501" y1="1618.2" x2="501" y2="1623.7" stroke="#000" stroke-width="1.7" /><line x1="504.6" y1="1618.2" x2="504.6" y2="1628.2" stroke="#000" stroke-width="2.0" /><line x1="528.1" y1="1618.2" x2="528.1" y2="1623.7" stroke="#000" stroke-width="1.7" /><line x1="541.9" y1="1618.2" x2="541.9" y2="1623.7" stroke="#000" stroke-width="1.7" /><line x1="551.7" y1="1618.2" x2="551.7" y2="1623.7" stroke="#000" stroke-width="1.7" /><line x1="559.3" y1="1618.2" x2="559.3" y2="1623.7" stroke="#000" stroke-width="1.7" /><line x1="565.5" y1="1618.2" x2="565.5" y2="1623.7" stroke="#000" stroke-width="1.7" /><line x1="570.7" y1="1618.2" x2="570.7" y2="1623.7" stroke="#000" stroke-width="1.7" /><line x1="575.2" y1="1618.2" x2="575.2" y2="1623.7" stroke="#000" stroke-width="1.7" /><line x1="579.2" y1="1618.2" x2="579.2" y2="1623.7" stroke="#000" stroke-width="1.7" /><line x1="582.8" y1="1618.2" x2="582.8" y2="1628.2" stroke="#000" stroke-width="2.0" /><line x1="606.3" y1="1618.2" x2="606.3" y2="1623.7" stroke="#000" stroke-width="1.7" /><line x1="620.1" y1="1618.2" x2="620.1" y2="1623.7" stroke="#000" stroke-width="1.7" /><line x1="629.9" y1="1618.2" x2="629.9" y2="1623.7" stroke="#000" stroke-width="1.7" /><line x1="637.5" y1="1618.2" x2="637.5" y2="1623.7" stroke="#000" stroke-width="1.7" /><line x1="643.7" y1="1618.2" x2="643.7" y2="1623.7" stroke="#000" stroke-width="1.7" /><line x1="648.9" y1="1618.2" x2="648.9" y2="1623.7" stroke="#000" stroke-width="1.7" /><line x1="653.4" y1="1618.2" x2="653.4" y2="1623.7" stroke="#000" stroke-width="1.7" /><line x1="657.4" y1="1618.2" x2="657.4" y2="1623.7" stroke="#000" stroke-width="1.7" /><line x1="661" y1="1618.2" x2="661" y2="1628.2" stroke="#000" stroke-width="2.0" /><line x1="684.5" y1="1618.2" x2="684.5" y2="1623.7" stroke="#000" stroke-width="1.7" /><line x1="698.3" y1="1618.2" x2="698.3" y2="1623.7" stroke="#000" stroke-width="1.7" /><line x1="708.1" y1="1618.2" x2="708.1" y2="1623.7" stroke="#000" stroke-width="1.7" /><line x1="715.7" y1="1618.2" x2="715.7" y2="1623.7" stroke="#000" stroke-width="1.7" /><line x1="721.9" y1="1618.2" x2="721.9" y2="1623.7" stroke="#000" stroke-width="1.7" /><line x1="727.1" y1="1618.2" x2="727.1" y2="1623.7" stroke="#000" stroke-width="1.7" /><line x1="731.6" y1="1618.2" x2="731.6" y2="1623.7" stroke="#000" stroke-width="1.7" /><line x1="735.6" y1="1618.2" x2="735.6" y2="1623.7" stroke="#000" stroke-width="1.7" /><line x1="739.2" y1="1618.2" x2="739.2" y2="1628.2" stroke="#000" stroke-width="2.0" />
<polyline points="570.5,1616.2 587.7,1616.2 590.7,1612.1 594.5,1604.6 598.5,1592 602.7,1574.7 604.4,1556 605.7,1537.2 607.2,1504.3 610.9,1477.3 614,1466 617.7,1454.8 621.4,1424.9 625.9,1409.9 627.4,1399 628.9,1387.4 630.4,1371 631.9,1357.5 633.4,1352.2 639.4,1352.2 640.1,1364.9 643.1,1394.9 644.6,1424.9 646.9,1462.3 648.4,1504.3 651.4,1532.7 653.6,1559.7 655.9,1577.7 660.4,1604.6 664.9,1613.6 670.1,1617.2" fill="none" stroke="#000" stroke-width="3.5" stroke-linejoin="round"/>
<text x="654.5" y="1342" font-family='"Liberation Serif", "Noto Serif CJK SC", serif' font-size="39" font-weight="normal" text-anchor="start" fill="#2a2a2a" textLength="64" lengthAdjust="spacingAndGlyphs">MFI:</text>
<text x="653.8 672 690.5 709.5 734.5" y="1389" font-family='"Liberation Serif", "Noto Serif CJK SC", serif' font-size="39" fill="#2a2a2a">399.9</text>
<text x="68" y="1678.4" font-family='"Liberation Sans", Arial, Helvetica, sans-serif' font-size="47" font-weight="normal" text-anchor="start" fill="#000" textLength="386.8" lengthAdjust="spacingAndGlyphs">MitoTracker green</text>
<line x1="470" y1="1665.1" x2="592" y2="1665.1" stroke="#000" stroke-width="4.4" />
<polygon points="611.8,1665.1 582,1647.3 590.5,1665.1 582,1682.9" fill="#000"/>
</g>
<g>
<text x="2.9" y="1781.3" font-family='"Liberation Sans", Arial, Helvetica, sans-serif' font-size="59.3" font-weight="normal" text-anchor="start" fill="#000" >E</text>
<text x="219.3" y="1765.8" font-family='"Liberation Sans", Arial, Helvetica, sans-serif' font-size="52.8" font-weight="normal" text-anchor="middle" fill="#000" >1g</text>
<text x="597.8" y="1772.4" font-family='"Liberation Sans", Arial, Helvetica, sans-serif' font-size="52" font-weight="normal" text-anchor="middle" fill="#000" >1g+Rapa</text>
<clipPath id="ce1"><rect x="21.9" y="1794.3" width="369.3" height="336.5"/></clipPath>
<rect x="21.9" y="1794.3" width="369.3" height="336.5" fill="#060606" />
<g clip-path="url(#ce1)"><ellipse cx="56.1" cy="1840" rx="29" ry="24.5" fill="#181816" opacity="0.9" filter="url(#ef6)"/><ellipse cx="54.5" cy="1843.2" rx="23.5" ry="19" fill="#155a1c" opacity="0.95" filter="url(#ef4)" transform="rotate(25 54.5 1843.2)"/><ellipse cx="57.7" cy="1836.8" rx="22" ry="17.5" fill="#1a28d6" opacity="1" filter="url(#ef4)" transform="rotate(25 57.7 1836.8)"/><ellipse cx="55.7" cy="1837.8" rx="9.9" ry="7" fill="#1618a8" opacity="0.45" filter="url(#ef4)" transform="rotate(25 55.7 1837.8)"/><ellipse cx="194.1" cy="1835.5" rx="27.5" ry="30.5" fill="#181816" opacity="0.9" filter="url(#ef6)"/><ellipse cx="196.9" cy="1832.7" rx="22" ry="25" fill="#155a1c" opacity="0.95" filter="url(#ef4)" transform="rotate(15 196.9 1832.7)"/><ellipse cx="191.3" cy="1838.3" rx="20.5" ry="23.5" fill="#1a28d6" opacity="1" filter="url(#ef4)" transform="rotate(15 191.3 1838.3)"/><ellipse cx="189.3" cy="1839.3" rx="9.2" ry="9.4" fill="#1618a8" opacity="0.45" filter="url(#ef4)" transform="rotate(15 189.3 1839.3)"/><ellipse cx="120.6" cy="1904.2" rx="27.5" ry="26.5" fill="#181816" opacity="0.9" filter="url(#ef6)"/><ellipse cx="118.2" cy="1903.4" rx="22" ry="21" fill="#155a1c" opacity="0.95" filter="url(#ef4)" transform="rotate(25 118.2 1903.4)"/><ellipse cx="123" cy="1905" rx="20.5" ry="19.5" fill="#1a28d6" opacity="1" filter="url(#ef4)" transform="rotate(25 123 1905)"/><ellipse cx="121" cy="1906" rx="9.2" ry="7.8" fill="#1618a8" opacity="0.45" filter="url(#ef4)" transform="rotate(25 121 1906)"/><ellipse cx="278.2" cy="1925.6" rx="35.5" ry="30" fill="#181816" opacity="0.9" filter="url(#ef6)"/><ellipse cx="275.4" cy="1924.8" rx="30" ry="24.5" fill="#155a1c" opacity="0.95" filter="url(#ef4)" transform="rotate(-8 275.4 1924.8)"/><ellipse cx="281" cy="1926.4" rx="28.5" ry="23" fill="#1a28d6" opacity="1" filter="url(#ef4)" transform="rotate(-8 281 1926.4)"/><ellipse cx="279" cy="1927.4" rx="12.8" ry="9.2" fill="#1618a8" opacity="0.45" filter="url(#ef4)" transform="rotate(-8 279 1927.4)"/><ellipse cx="98.5" cy="2006.1" rx="28.5" ry="26.5" fill="#181816" opacity="0.9" filter="url(#ef6)"/><ellipse cx="95.3" cy="2005.3" rx="23" ry="21" fill="#155a1c" opacity="0.95" filter="url(#ef4)" transform="rotate(-25 95.3 2005.3)"/><ellipse cx="101.7" cy="2006.9" rx="21.5" ry="19.5" fill="#1a28d6" opacity="1" filter="url(#ef4)" transform="rotate(-25 101.7 2006.9)"/><ellipse cx="99.7" cy="2007.9" rx="9.7" ry="7.8" fill="#1618a8" opacity="0.45" filter="url(#ef4)" transform="rotate(-25 99.7 2007.9)"/><ellipse cx="267" cy="2105" rx="35.5" ry="32" fill="#181816" opacity="0.9" filter="url(#ef6)"/><ellipse cx="269.8" cy="2109" rx="30" ry="26.5" fill="#155a1c" opacity="0.95" filter="url(#ef4)" transform="rotate(-15 269.8 2109)"/><ellipse cx="264.2" cy="2101" rx="28.5" ry="25" fill="#1a28d6" opacity="1" filter="url(#ef4)" transform="rotate(-15 264.2 2101)"/><ellipse cx="262.2" cy="2102" rx="12.8" ry="10" fill="#1618a8" opacity="0.45" filter="url(#ef4)" transform="rotate(-15 262.2 2102)"/></g>
<rect x="312.8" y="2117" width="66.8" height="6.8" fill="#fff" />
<clipPath id="ce2"><rect x="415.8" y="1796.7" width="368.4" height="336.3"/></clipPath>
<rect x="415.8" y="1796.7" width="368.4" height="336.3" fill="#050505" />
<g clip-path="url(#ce2)"><ellipse cx="538" cy="1902" rx="42" ry="36" fill="#181816" opacity="0.9" filter="url(#ef6)" transform="rotate(-25 538 1902)"/><ellipse cx="552" cy="1887" rx="27" ry="20" fill="#1f962e" opacity="1" filter="url(#ef4)" transform="rotate(-20 552 1887)"/><ellipse cx="556" cy="1885" rx="17" ry="12" fill="#2ab83c" opacity="0.7" filter="url(#ef4)" transform="rotate(-20 556 1885)"/><ellipse cx="530.6" cy="1913" rx="31" ry="24" fill="#1a1ccc" opacity="1" filter="url(#ef4)" transform="rotate(-15 530.6 1913)"/><ellipse cx="541" cy="1893" rx="13" ry="8" fill="#2498e2" opacity="0.85" filter="url(#ef4)" transform="rotate(-25 541 1893)"/><ellipse cx="526" cy="1917" rx="14" ry="10" fill="#15128e" opacity="0.6" filter="url(#ef4)"/><ellipse cx="600" cy="1904" rx="5" ry="4" fill="#0c1470" opacity="0.9" filter="url(#ef2)"/><ellipse cx="582" cy="1910" rx="5" ry="3" fill="#0a0f50" opacity="0.8" filter="url(#ef2)"/><ellipse cx="657" cy="1965" rx="42" ry="42" fill="#181816" opacity="0.9" filter="url(#ef6)"/><ellipse cx="656.6" cy="1964.4" rx="35" ry="36" fill="#1f962e" opacity="1.0" filter="url(#ef4)"/><ellipse cx="652" cy="1975" rx="26" ry="24" fill="#2ab83c" opacity="0.6" filter="url(#ef4)"/><ellipse cx="655.5" cy="1961" rx="25" ry="26" fill="#1c60e0" opacity="1.0" filter="url(#ef4)"/><ellipse cx="660" cy="1968" rx="14" ry="15" fill="#2498e2" opacity="0.8" filter="url(#ef4)"/><ellipse cx="648" cy="1950" rx="10" ry="9" fill="#1838d8" opacity="0.8" filter="url(#ef4)"/><ellipse cx="497" cy="1993" rx="32" ry="28" fill="#181816" opacity="0.9" filter="url(#ef6)"/><ellipse cx="494" cy="1981" rx="23" ry="15" fill="#1f962e" opacity="1.0" filter="url(#ef4)"/><ellipse cx="495" cy="1979" rx="15" ry="9" fill="#2ab83c" opacity="0.6" filter="url(#ef4)"/><ellipse cx="497.2" cy="2001" rx="27" ry="17" fill="#1a1ccc" opacity="1.0" filter="url(#ef4)"/><ellipse cx="503" cy="1995" rx="16" ry="6" fill="#2498e2" opacity="0.7" filter="url(#ef4)"/><ellipse cx="547.3" cy="1982.6" rx="15" ry="14" fill="#1212b8" opacity="1" filter="url(#ef4)" transform="rotate(30 547.3 1982.6)"/><ellipse cx="580" cy="1999" rx="26" ry="26" fill="#181816" opacity="0.9" filter="url(#ef6)"/><ellipse cx="568" cy="2000" rx="11" ry="17" fill="#1f962e" opacity="1.0" filter="url(#ef4)"/><ellipse cx="567" cy="2000" rx="7" ry="11" fill="#2ab83c" opacity="0.6" filter="url(#ef4)"/><ellipse cx="585" cy="2001" rx="16" ry="19" fill="#1a1ccc" opacity="1.0" filter="url(#ef4)"/><ellipse cx="576" cy="2003" rx="5" ry="12" fill="#2498e2" opacity="0.7" filter="url(#ef4)"/><ellipse cx="528" cy="2044" rx="32" ry="28" fill="#181816" opacity="0.9" filter="url(#ef6)"/><ellipse cx="518" cy="2051" rx="17" ry="17" fill="#1f962e" opacity="1.0" filter="url(#ef4)"/><ellipse cx="516" cy="2054" rx="10" ry="10" fill="#2ab83c" opacity="0.5" filter="url(#ef4)"/><ellipse cx="535" cy="2039" rx="23" ry="19" fill="#1a1ccc" opacity="1" filter="url(#ef4)" transform="rotate(-25 535 2039)"/><ellipse cx="520" cy="2043" rx="6" ry="10" fill="#2498e2" opacity="0.7" filter="url(#ef4)"/><ellipse cx="465" cy="2050" rx="22" ry="26" fill="#181816" opacity="0.9" filter="url(#ef6)"/><ellipse cx="463" cy="2048" rx="19" ry="22" fill="#155a1c" opacity="0.8" filter="url(#ef4)"/><ellipse cx="468.3" cy="2052.4" rx="16" ry="20" fill="#1a1ccc" opacity="1" filter="url(#ef4)" transform="rotate(-15 468.3 2052.4)"/></g>
<rect x="709.8" y="2115.6" width="67.4" height="6.8" fill="#fff" />
</g>
<g>
<text x="842.4" y="1292.6" font-family='"Liberation Sans", Arial, Helvetica, sans-serif' font-size="59" font-weight="normal" text-anchor="start" fill="#000" >F</text>
<line x1="972" y1="1362.9" x2="972" y2="1909.8" stroke="#b4b4b4" stroke-width="1.7" />
<line x1="963" y1="1908.8" x2="1319.3" y2="1908.8" stroke="#a6a6a6" stroke-width="2.2" />
<line x1="963" y1="1908.8" x2="972" y2="1908.8" stroke="#b4b4b4" stroke-width="1.5" />
<text x="943.6" y="1920.4" font-family='"Liberation Sans", Arial, Helvetica, sans-serif' font-size="38" font-weight="normal" text-anchor="end" fill="#111" textLength="18.8" lengthAdjust="spacingAndGlyphs">0</text>
<line x1="963" y1="1840.6" x2="972" y2="1840.6" stroke="#b4b4b4" stroke-width="1.5" />
<text x="943.6" y="1852.2" font-family='"Liberation Sans", Arial, Helvetica, sans-serif' font-size="38" font-weight="normal" text-anchor="end" fill="#111" textLength="75.2" lengthAdjust="spacingAndGlyphs">1000</text>
<line x1="963" y1="1772.3" x2="972" y2="1772.3" stroke="#b4b4b4" stroke-width="1.5" />
<text x="943.6" y="1783.9" font-family='"Liberation Sans", Arial, Helvetica, sans-serif' font-size="38" font-weight="normal" text-anchor="end" fill="#111" textLength="75.2" lengthAdjust="spacingAndGlyphs">2000</text>
<line x1="963" y1="1704.1" x2="972" y2="1704.1" stroke="#b4b4b4" stroke-width="1.5" />
<text x="943.6" y="1715.7" font-family='"Liberation Sans", Arial, Helvetica, sans-serif' font-size="38" font-weight="normal" text-anchor="end" fill="#111" textLength="75.2" lengthAdjust="spacingAndGlyphs">3000</text>
<line x1="963" y1="1635.8" x2="972" y2="1635.8" stroke="#b4b4b4" stroke-width="1.5" />
<text x="943.6" y="1647.4" font-family='"Liberation Sans", Arial, Helvetica, sans-serif' font-size="38" font-weight="normal" text-anchor="end" fill="#111" textLength="75.2" lengthAdjust="spacingAndGlyphs">4000</text>
<line x1="963" y1="1567.6" x2="972" y2="1567.6" stroke="#b4b4b4" stroke-width="1.5" />
<text x="943.6" y="1579.2" font-family='"Liberation Sans", Arial, Helvetica, sans-serif' font-size="38" font-weight="normal" text-anchor="end" fill="#111" textLength="75.2" lengthAdjust="spacingAndGlyphs">5000</text>
<line x1="963" y1="1499.4" x2="972" y2="1499.4" stroke="#b4b4b4" stroke-width="1.5" />
<text x="943.6" y="1511" font-family='"Liberation Sans", Arial, Helvetica, sans-serif' font-size="38" font-weight="normal" text-anchor="end" fill="#111" textLength="75.2" lengthAdjust="spacingAndGlyphs">6000</text>
<line x1="963" y1="1431.1" x2="972" y2="1431.1" stroke="#b4b4b4" stroke-width="1.5" />
<text x="943.6" y="1442.7" font-family='"Liberation Sans", Arial, Helvetica, sans-serif' font-size="38" font-weight="normal" text-anchor="end" fill="#111" textLength="75.2" lengthAdjust="spacingAndGlyphs">7000</text>
<line x1="963" y1="1362.9" x2="972" y2="1362.9" stroke="#b4b4b4" stroke-width="1.5" />
<text x="943.6" y="1374.5" font-family='"Liberation Sans", Arial, Helvetica, sans-serif' font-size="38" font-weight="normal" text-anchor="end" fill="#111" textLength="75.2" lengthAdjust="spacingAndGlyphs">8000</text>
<line x1="1030" y1="1908.8" x2="1030" y2="1897.5" stroke="#a6a6a6" stroke-width="2.0" />
<line x1="1087.8" y1="1908.8" x2="1087.8" y2="1897.5" stroke="#a6a6a6" stroke-width="2.0" />
<line x1="1144.7" y1="1908.8" x2="1144.7" y2="1897.5" stroke="#a6a6a6" stroke-width="2.0" />
<line x1="1202.4" y1="1908.8" x2="1202.4" y2="1897.5" stroke="#a6a6a6" stroke-width="2.0" />
<line x1="1260.2" y1="1908.8" x2="1260.2" y2="1897.5" stroke="#a6a6a6" stroke-width="2.0" />
<line x1="1318.3" y1="1908.8" x2="1318.3" y2="1897.5" stroke="#a6a6a6" stroke-width="2.0" />
<text x="971.5" y="1966.6" font-family='"Liberation Sans", Arial, Helvetica, sans-serif' font-size="36.5" font-weight="normal" text-anchor="middle" fill="#111" textLength="18.1" lengthAdjust="spacingAndGlyphs">0</text>
<text x="1030" y="1966.6" font-family='"Liberation Sans", Arial, Helvetica, sans-serif' font-size="36.5" font-weight="normal" text-anchor="middle" fill="#111" textLength="36.1" lengthAdjust="spacingAndGlyphs">20</text>
<text x="1087.8" y="1966.6" font-family='"Liberation Sans", Arial, Helvetica, sans-serif' font-size="36.5" font-weight="normal" text-anchor="middle" fill="#111" textLength="36.1" lengthAdjust="spacingAndGlyphs">40</text>
<text x="1144.7" y="1966.6" font-family='"Liberation Sans", Arial, Helvetica, sans-serif' font-size="36.5" font-weight="normal" text-anchor="middle" fill="#111" textLength="36.1" lengthAdjust="spacingAndGlyphs">60</text>
<text x="1202.4" y="1966.6" font-family='"Liberation Sans", Arial, Helvetica, sans-serif' font-size="36.5" font-weight="normal" text-anchor="middle" fill="#111" textLength="36.1" lengthAdjust="spacingAndGlyphs">80</text>
<text x="1264.4" y="1966.6" font-family='"Liberation Sans", Arial, Helvetica, sans-serif' font-size="36.5" font-weight="normal" text-anchor="middle" fill="#111" textLength="54.2" lengthAdjust="spacingAndGlyphs">100</text>
<text x="1318.9" y="1966.6" font-family='"Liberation Sans", Arial, Helvetica, sans-serif' font-size="36.5" font-weight="normal" text-anchor="middle" fill="#111" textLength="54.2" lengthAdjust="spacingAndGlyphs">120</text>
<text x="1145.5" y="2018.9" font-family='"Liberation Sans", Arial, Helvetica, sans-serif' font-size="45.5" font-weight="normal" text-anchor="middle" fill="#111" textLength="177.7" lengthAdjust="spacingAndGlyphs">Time, min</text>
<g transform="translate(848.4 1635.4) scale(0.89 1) rotate(-90)"><text x="0" y="0" font-family='"Liberation Sans", Arial, Helvetica, sans-serif' font-size="47" font-weight="normal" text-anchor="middle" fill="#111" >RFU</text></g>
<polyline points="971.4,1552.7 972.8,1558.8 974.2,1559.3 975.5,1562.2 976.9,1563.1 978.3,1569 979.7,1577.3 981.1,1576.7 982.5,1580.9 983.9,1579.7 985.3,1582.1 986.7,1583.2 988.1,1577.9 989.5,1594.8 990.8,1601.5 992.2,1609.6 993.6,1604.2 995,1598.4 996.4,1596.1 997.8,1596.1 999.2,1598.7 1000.6,1596.9 1002,1598.7 1003.4,1593.7 1004.8,1597 1006.1,1596.9 1007.5,1592.4 1008.9,1601.4 1010.3,1596.6 1011.7,1598.8 1013.1,1591.3 1014.5,1590.6 1015.9,1591.8 1017.3,1592.9 1018.7,1596.4 1020.1,1595.3 1021.4,1593.1 1022.8,1591.5 1024.2,1593.7 1025.6,1601.2 1027,1593.6 1028.4,1597.6 1029.8,1597.4 1031.2,1588.8 1032.6,1594 1034,1598.2 1035.4,1583.8 1036.7,1589.8 1038.1,1589.7 1039.5,1585.9 1040.9,1590.3 1042.3,1587.1 1043.7,1580.4 1045.1,1589 1046.5,1588 1047.9,1588.7 1049.3,1590.3 1050.6,1585.4 1052,1584 1053.4,1577.7 1054.8,1585.1 1056.2,1579.6 1057.6,1579.8 1059,1575.8 1060.4,1575.7 1061.8,1576.2 1063.2,1582.4 1064.6,1567.2 1065.9,1568.2 1067.3,1574 1068.7,1577.7 1070.1,1572.7 1071.5,1560.9 1072.9,1557 1074.3,1568.4 1075.7,1563.1 1077.1,1560.8 1078.5,1568.9 1079.9,1568.7 1081.2,1564 1082.6,1563.7 1084,1563.8 1085.4,1568 1086.8,1563.1 1088.2,1561.9 1089.6,1561.2 1091,1551.3 1092.4,1562.7 1093.8,1560.4 1095.2,1557.8 1096.5,1546.1 1097.9,1551.1 1099.3,1556.6 1100.7,1544.3 1102.1,1549.9 1103.5,1553.5 1104.9,1541.8 1106.3,1552.9 1107.7,1546.7 1109.1,1542 1110.5,1542.5 1111.8,1542.4 1113.2,1539.5 1114.6,1543.4 1116,1534.8 1117.4,1535.3 1118.8,1541.1 1120.2,1536.1 1121.6,1531.4 1123,1539 1124.4,1540.7 1125.8,1531.6 1127.1,1526.8 1128.5,1531.8 1129.9,1530.7 1131.3,1528.9 1132.7,1535.5 1134.1,1523.5 1135.5,1532.7 1136.9,1520.2 1138.3,1521.3 1139.7,1526.6 1141.1,1527.8 1142.4,1525.5 1143.8,1522.2 1145.2,1520.5 1146.6,1519.7 1148,1520.8 1149.4,1516.5 1150.8,1517.7 1152.2,1518.3 1153.6,1514.8 1155,1517.5 1156.4,1515.7 1157.7,1521.6 1159.1,1513.3 1160.5,1509.3 1161.9,1508.9 1163.3,1510 1164.7,1513.8 1166.1,1507.4 1167.5,1510.2 1168.9,1516.3 1170.3,1495.3 1171.6,1501.2 1173,1506.5 1174.4,1506.2 1175.8,1504.4 1177.2,1500.2 1178.6,1504.3 1180,1501.5 1181.4,1496.7 1182.8,1509.3 1184.2,1497.9 1185.6,1491.9 1186.9,1492.4 1188.3,1490.1 1189.7,1489.2 1191.1,1474.9 1192.5,1483.9 1193.9,1489.8 1195.3,1478.2 1196.7,1482.2 1198.1,1485.9 1199.5,1484.2 1200.9,1486 1202.2,1469.5 1203.6,1474.7 1205,1473.6 1206.4,1477 1207.8,1478 1209.2,1458.6 1210.6,1475.6 1212,1462.1 1213.4,1471.5 1214.8,1460.2 1216.2,1467.5 1217.5,1471.6 1218.9,1464.3 1220.3,1465.2 1221.7,1467.4 1223.1,1463.4 1224.5,1461.5 1225.9,1468.7 1227.3,1465.5 1228.7,1458.2 1230.1,1472.3 1231.5,1452.4 1232.8,1461.8 1234.2,1455.1 1235.6,1456.2 1237,1458.2 1238.4,1455 1239.8,1456.3 1241.2,1444.7 1242.6,1443.9 1244,1453.6 1245.4,1444.9 1246.8,1443.8 1248.1,1440.7 1249.5,1453.6 1250.9,1450.1 1252.3,1453 1253.7,1440.4 1255.1,1444.8 1256.5,1438.7 1257.9,1448 1259.3,1451.8 1260.7,1438.9 1262.1,1451 1263.4,1447.8 1264.8,1441.5 1266.2,1432.1 1267.6,1448.9 1269,1441 1270.4,1438 1271.8,1442.8 1273.2,1442.4 1274.6,1447 1276,1433.1 1277.4,1443.2 1278.7,1444 1280.1,1442.9 1281.5,1433.5 1282.9,1429.6 1284.3,1437.7 1285.7,1432.1 1287.1,1431.2 1288.5,1436.9 1289.9,1428.9 1291.3,1419.7 1292.6,1431 1294,1423.3 1295.4,1436.8 1296.8,1433.8 1298.2,1428.6 1299.6,1431.3 1301,1435.3 1302.4,1431 1303.8,1437.1 1305.2,1429.5 1306.6,1434.9 1307.9,1437.2 1309.3,1437.9 1310.7,1426 1312.1,1434.3 1313.5,1419.8 1314.9,1424.1 1316.3,1419.5 1317.7,1435.6 1319.1,1423.5" fill="none" stroke="#ed7d31" stroke-width="6.0" stroke-linejoin="round" stroke-linecap="round"/>
<polyline points="971.4,1653.9 972.8,1664.4 974.2,1672.1 975.5,1672.6 976.9,1673.7 978.3,1680.9 979.7,1685.1 981.1,1688.8 982.5,1683.8 983.9,1685.4 985.3,1693.1 986.7,1694.2 988.1,1699 989.5,1699.2 990.8,1697.7 992.2,1698.9 993.6,1709.1 995,1702.3 996.4,1702.6 997.8,1703 999.2,1708.1 1000.6,1709.6 1002,1709.5 1003.4,1711.8 1004.8,1714.2 1006.1,1716.8 1007.5,1719.5 1008.9,1717.6 1010.3,1711.9 1011.7,1720 1013.1,1714 1014.5,1718.3 1015.9,1714.8 1017.3,1719.8 1018.7,1717.9 1020.1,1721.4 1021.4,1731.4 1022.8,1721.5 1024.2,1724.6 1025.6,1718.1 1027,1721.6 1028.4,1724.8 1029.8,1722.7 1031.2,1724.4 1032.6,1723.8 1034,1720.5 1035.4,1725.7 1036.7,1721.6 1038.1,1730.3 1039.5,1723.1 1040.9,1727.1 1042.3,1725.1 1043.7,1728.1 1045.1,1723.1 1046.5,1728.2 1047.9,1724.7 1049.3,1729.1 1050.6,1727 1052,1725.5 1053.4,1722.6 1054.8,1727.5 1056.2,1726.5 1057.6,1730.3 1059,1723.8 1060.4,1726.8 1061.8,1726.7 1063.2,1726 1064.6,1725.7 1065.9,1725.6 1067.3,1723.1 1068.7,1721.8 1070.1,1723.8 1071.5,1727 1072.9,1730 1074.3,1728.1 1075.7,1728.3 1077.1,1727.3 1078.5,1726.9 1079.9,1725.1 1081.2,1727 1082.6,1730.2 1084,1723.2 1085.4,1721.8 1086.8,1730.5 1088.2,1724.7 1089.6,1727.1 1091,1726.6 1092.4,1719.9 1093.8,1731.6 1095.2,1729.4 1096.5,1723.9 1097.9,1725.8 1099.3,1723.6 1100.7,1720.1 1102.1,1722.6 1103.5,1724.1 1104.9,1726.5 1106.3,1725 1107.7,1722.7 1109.1,1727 1110.5,1719.8 1111.8,1724.9 1113.2,1724.3 1114.6,1717.8 1116,1711 1117.4,1712.4 1118.8,1716.1 1120.2,1717 1121.6,1720.4 1123,1711.6 1124.4,1715 1125.8,1717.1 1127.1,1714.2 1128.5,1706.5 1129.9,1717.4 1131.3,1722.5 1132.7,1717.9 1134.1,1711.2 1135.5,1712.8 1136.9,1714.9 1138.3,1722.8 1139.7,1716.2 1141.1,1714.3 1142.4,1719.3 1143.8,1713.3 1145.2,1719.6 1146.6,1710.2 1148,1710.4 1149.4,1714.1 1150.8,1716.1 1152.2,1712.9 1153.6,1711.2 1155,1703.2 1156.4,1706.6 1157.7,1706.5 1159.1,1706.2 1160.5,1709.7 1161.9,1706 1163.3,1709.6 1164.7,1706.8 1166.1,1705.1 1167.5,1706.5 1168.9,1707.3 1170.3,1708.6 1171.6,1703.6 1173,1704.2 1174.4,1699.9 1175.8,1710.4 1177.2,1709.6 1178.6,1703.4 1180,1702.1 1181.4,1699.1 1182.8,1703.9 1184.2,1703.8 1185.6,1711.1 1186.9,1704.7 1188.3,1701.6 1189.7,1696.2 1191.1,1711 1192.5,1707.2 1193.9,1700.8 1195.3,1706.4 1196.7,1698.9 1198.1,1716.8 1199.5,1707.2 1200.9,1704.3 1202.2,1700.6 1203.6,1692.4 1205,1699 1206.4,1692.7 1207.8,1699.8 1209.2,1688.7 1210.6,1692.4 1212,1699.4 1213.4,1700.2 1214.8,1689.2 1216.2,1687.4 1217.5,1696.1 1218.9,1695.6 1220.3,1688.2 1221.7,1688.9 1223.1,1688.5 1224.5,1686.2 1225.9,1687.7 1227.3,1694.6 1228.7,1692 1230.1,1696.8 1231.5,1688.3 1232.8,1687.7 1234.2,1684 1235.6,1686.9 1237,1681.9 1238.4,1679.7 1239.8,1688.8 1241.2,1691.2 1242.6,1688.4 1244,1689.7 1245.4,1685 1246.8,1680.7 1248.1,1683.2 1249.5,1680.9 1250.9,1677.5 1252.3,1674.7 1253.7,1674.9 1255.1,1680.1 1256.5,1680.2 1257.9,1677.2 1259.3,1684 1260.7,1678.6 1262.1,1679.6 1263.4,1681.6 1264.8,1673 1266.2,1668 1267.6,1678.1 1269,1671.9 1270.4,1679.5 1271.8,1675.6 1273.2,1678.1 1274.6,1677.1 1276,1665.8 1277.4,1676.8 1278.7,1671.2 1280.1,1670.8 1281.5,1672 1282.9,1676.7 1284.3,1677.1 1285.7,1677.5 1287.1,1666.8 1288.5,1671 1289.9,1663.8 1291.3,1672.8 1292.6,1675.6 1294,1670 1295.4,1673.9 1296.8,1673.7 1298.2,1676.7 1299.6,1669.2 1301,1669 1302.4,1669.1 1303.8,1679.2 1305.2,1676.3 1306.6,1671.3 1307.9,1672.6 1309.3,1672.2 1310.7,1673.5 1312.1,1672.7 1313.5,1673 1314.9,1670.2 1316.3,1673.6 1317.7,1683.8 1319.1,1680.2" fill="none" stroke="#5b9bd5" stroke-width="6.0" stroke-linejoin="round" stroke-linecap="round"/>
<line x1="972.5" y1="1380.4" x2="1050.5" y2="1380.4" stroke="#ed7d31" stroke-width="7.4" stroke-linecap="round"/>
<line x1="972.5" y1="1419.6" x2="1050.5" y2="1419.6" stroke="#5b9bd5" stroke-width="7.4" stroke-linecap="round"/>
<text x="1060.4" y="1390" font-family='"Liberation Sans", Arial, Helvetica, sans-serif' font-size="37.2" font-weight="normal" text-anchor="start" fill="#111" textLength="36.8" lengthAdjust="spacingAndGlyphs">1g</text>
<text x="1060.4" y="1431.2" font-family='"Liberation Sans", Arial, Helvetica, sans-serif' font-size="37" font-weight="normal" text-anchor="start" fill="#111" textLength="134.6" lengthAdjust="spacingAndGlyphs">1g+Rapa</text>
</g>
</svg>
</body></html>
